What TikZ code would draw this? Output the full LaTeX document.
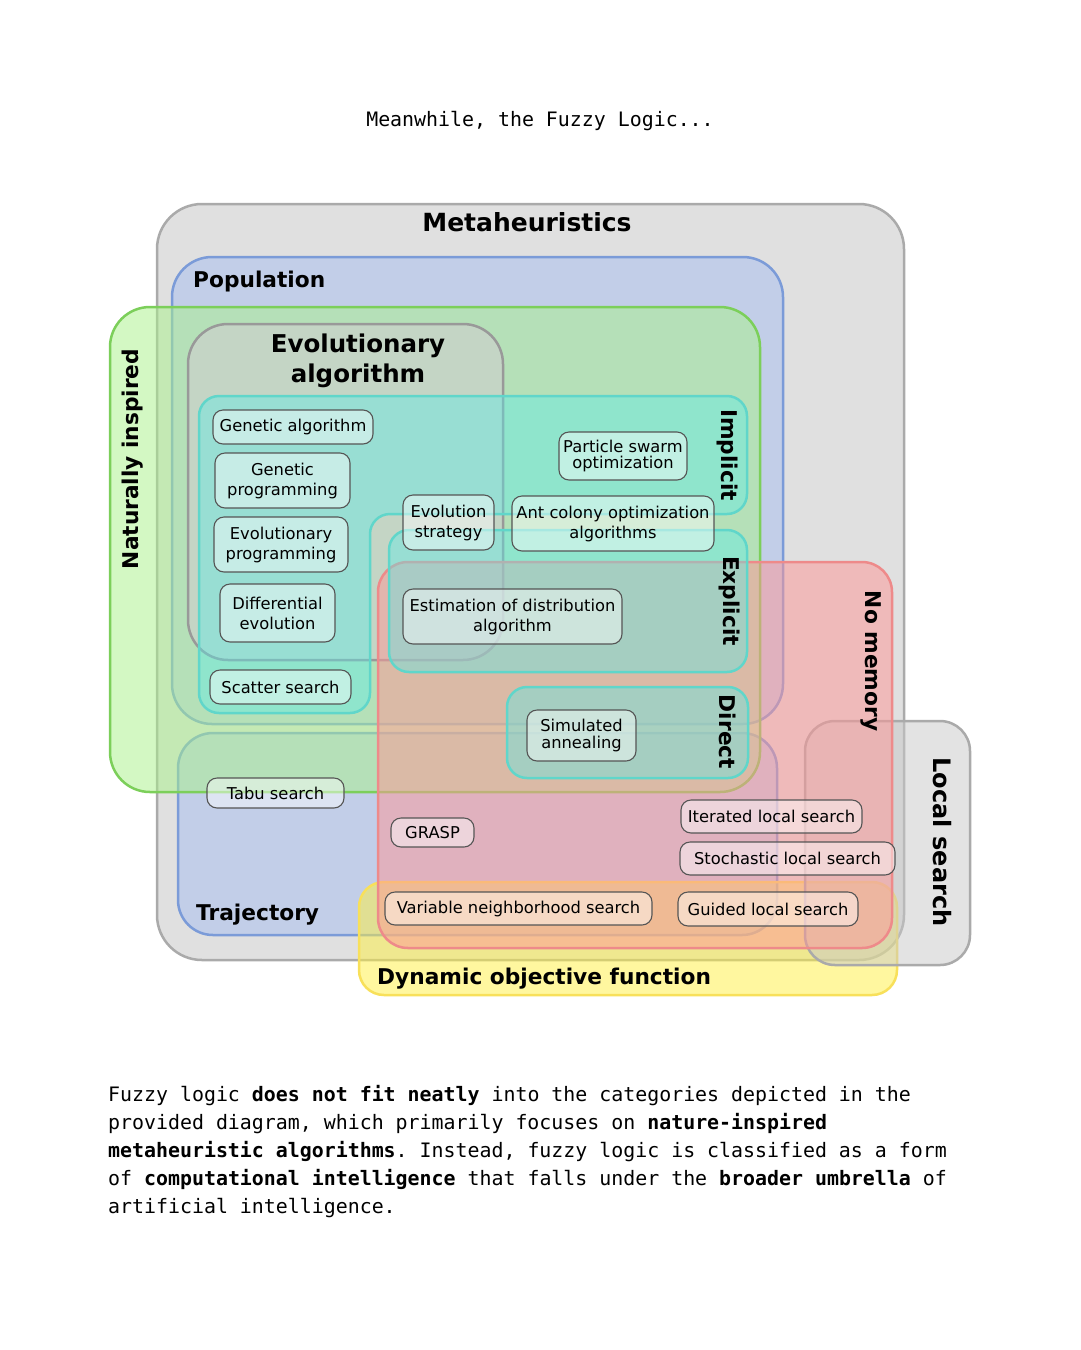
\documentclass[tikz,border=0pt]{standalone}
\usepackage{fontspec}
\setmainfont{DejaVu Sans}
\setmonofont{DejaVu Sans Mono}
\definecolor{metafill}{HTML}{E0E0E0}
\definecolor{metaline}{HTML}{AAAAAA}
\definecolor{popfill}{HTML}{A6BEF0}
\definecolor{popline}{HTML}{7B9BD8}
\definecolor{natfill}{HTML}{A9F389}
\definecolor{natline}{HTML}{7CCF5A}
\definecolor{evofill}{HTML}{CECECE}
\definecolor{evoline}{HTML}{999999}
\definecolor{cyanfill}{HTML}{57EDEA}
\definecolor{cyanline}{HTML}{60D6CA}
\definecolor{redfill}{HTML}{FF9696}
\definecolor{redline}{HTML}{EE8A8A}
\definecolor{dynfill}{HTML}{FFF040}
\definecolor{dynline}{HTML}{F8E05A}
\definecolor{localfill}{HTML}{C8C8C8}
\definecolor{algoline}{HTML}{555555}
\begin{document}
\begin{tikzpicture}[x=1pt,y=-1pt,
  region/.style={line width=2.5pt},
  algo/.style={draw=algoline, line width=1.1pt, fill=white, fill opacity=0.45,
    text opacity=1, draw opacity=1, rounded corners=10pt, inner sep=0pt,
    align=center, font=\fontsize{16.3}{20}\selectfont},
  tight/.style={font=\fontsize{16.3}{16.5}\selectfont},
  lab/.style={inner sep=0pt, font=\bfseries\fontsize{21.7}{26}\selectfont}]
\useasboundingbox (0,0) rectangle (1080,1350);
\fill[white] (0,0) rectangle (1080,1350);

% regions
\draw[region, draw=metaline, fill=metafill, rounded corners=45pt] (157,204) rectangle (904,960);
\draw[region, draw=popline, fill=popfill, fill opacity=0.5, rounded corners=40pt] (172,257) rectangle (783,724);
\draw[region, draw=popline, fill=popfill, fill opacity=0.5, rounded corners=35pt] (178,733) rectangle (777,935);
\draw[region, draw=natline, fill=natfill, fill opacity=0.5, rounded corners=40pt] (110,307) rectangle (760,792);
\draw[region, draw=evoline, fill=evofill, fill opacity=0.6, rounded corners=40pt] (188,324) rectangle (503,660);
\draw[region, draw=dynline, fill=dynfill, fill opacity=0.5, rounded corners=25pt] (359,882) rectangle (897,995);
\draw[region, draw=metaline, fill=localfill, fill opacity=0.5, rounded corners=30pt] (805,721) rectangle (970,965);
\draw[region, draw=redline, fill=redfill, fill opacity=0.5, rounded corners=30pt] (378,562) rectangle (892,948);
\draw[region, draw=cyanline, fill=cyanfill, fill opacity=0.4, rounded corners=20pt]
  (199,550) -- (199,396) -- (747,396) -- (747,514) -- (370,514) -- (370,713) -- (199,713) -- cycle;
\draw[region, draw=cyanline, fill=cyanfill, fill opacity=0.4, rounded corners=20pt] (389,530) rectangle (747,672);
\draw[region, draw=cyanline, fill=cyanfill, fill opacity=0.4, rounded corners=20pt] (507,687) rectangle (748,778);

% region labels
\node[lab, font=\bfseries\fontsize{25}{30}\selectfont] (meta) at (527,222) {Metaheuristics};
\node[lab, anchor=west] (pop) at (193,281.5) {Population};
\node[lab, align=center, font=\bfseries\fontsize{24.5}{30}\selectfont] (evo) at (358,361) {Evolutionary\\algorithm};
\node[lab, anchor=west] (traj) at (196,914.5) {Trajectory};
\node[lab, anchor=west] (dyn) at (377,978.5) {Dynamic objective function};
\node[lab, rotate=90] (nat) at (133,459) {Naturally inspired};
\node[lab, rotate=-90] (impl) at (727,455) {Implicit};
\node[lab, rotate=-90] (expl) at (729,601) {Explicit};
\node[lab, rotate=-90] (dir) at (728,732) {Direct};
\node[lab, rotate=-90] (nomem) at (871,661) {No memory};
\node[lab, rotate=-90, font=\bfseries\fontsize{24}{28}\selectfont] (ls) at (942,842) {Local search};

% algorithms
\node[algo, minimum width=160pt, minimum height=34pt] (ga) at (293,427) {Genetic algorithm};
\node[algo, minimum width=135pt, minimum height=55pt] (gp) at (282.5,480.5) {Genetic\\programming};
\node[algo, minimum width=134pt, minimum height=55pt] (ep) at (281,544.5) {Evolutionary\\programming};
\node[algo, minimum width=115pt, minimum height=58pt] (de) at (277.5,613) {Differential\\evolution};
\node[algo, minimum width=141pt, minimum height=34pt] (ss) at (280.5,687) {Scatter search};
\node[algo, minimum width=91pt, minimum height=55pt] (es) at (448.5,522.5) {Evolution\\strategy};
\node[algo, tight, minimum width=128pt, minimum height=48pt] (pso) at (623,456) {Particle swarm\\optimization};
\node[algo, minimum width=202pt, minimum height=55pt] (aco) at (613,523.5) {Ant colony optimization\\algorithms};
\node[algo, minimum width=219pt, minimum height=55pt] (eda) at (512.5,616.5) {Estimation of distribution\\algorithm};
\node[algo, tight, minimum width=109pt, minimum height=51pt] (sa) at (581.5,735.5) {Simulated\\annealing};
\node[algo, minimum width=137pt, minimum height=30pt] (tabu) at (275.5,793) {Tabu search};
\node[algo, minimum width=83pt, minimum height=29pt] (grasp) at (432.5,832.5) {GRASP};
\node[algo, minimum width=181pt, minimum height=33pt] (ils) at (771.5,816.5) {Iterated local search};
\node[algo, minimum width=215pt, minimum height=33pt] (sls) at (787.5,858.5) {Stochastic local search};
\node[algo, minimum width=267pt, minimum height=33pt] (vns) at (518.5,908.5) {Variable neighborhood search};
\node[algo, minimum width=180pt, minimum height=34pt] (gls) at (768,909) {Guided local search};

% texts
\node[inner sep=0pt, font=\ttfamily\fontsize{19.9}{24}\selectfont] (title) at (540,121.5) {Meanwhile, the Fuzzy Logic...};
\node[inner sep=0pt, anchor=north west, align=left, font=\ttfamily\fontsize{19.9}{28}\selectfont] (para) at (108,1085)
{Fuzzy logic \textbf{does not fit neatly} into the categories depicted in the\\
provided diagram, which primarily focuses on \textbf{nature-inspired}\\
\textbf{metaheuristic algorithms}. Instead, fuzzy logic is classified as a form\\
of \textbf{computational intelligence} that falls under the \textbf{broader umbrella} of\\
artificial intelligence.};
\end{tikzpicture}
\end{document}
